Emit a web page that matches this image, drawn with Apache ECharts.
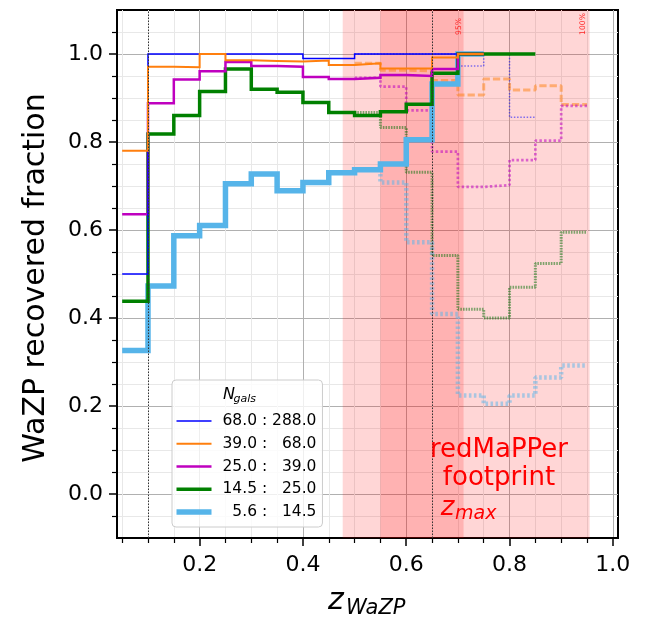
<!DOCTYPE html>
<html><head><meta charset="utf-8">
<script src="https://cdn.jsdelivr.net/npm/echarts@6/dist/echarts.min.js"></script>
<style>html,body{margin:0;padding:0;background:#fff}#c{width:647px;height:623px}</style>
</head><body><div id="c"></div>
<script>
// ---- data ----
const zEdges = [0.05,0.10,0.15,0.20,0.25,0.30,0.35,0.40,0.45,0.50,0.55,0.60,0.65,0.70,0.75,0.80,0.85,0.90,0.95];
const legendNames = ['68.0 : 288.0', '39.0 :   68.0', '25.0 :   39.0', '14.5 :   25.0', '  5.6 :   14.5'];
// solid curves start at z = 0.05 (bin index 0)
const blueSolid   = [0.50,1.00,1.00,1.00,1.00,1.00,1.00,0.990,0.990,1.00,1.00,1.00,1.00,1.00];
const orangeSolid = [0.78,0.971,0.970,1.00,0.986,0.984,0.983,0.985,0.975,0.979,0.967,0.967,0.992,1.00];
const magentaSolid= [0.636,0.888,0.942,0.961,0.982,0.973,0.971,0.948,0.943,0.946,0.952,0.950,0.966,1.00];
const greenSolid  = [0.438,0.818,0.860,0.915,0.966,0.920,0.913,0.890,0.867,0.860,0.869,0.886,0.956,1.00,1.00,1.00];
const skySolid    = [0.326,0.473,0.587,0.610,0.705,0.727,0.689,0.708,0.730,0.737,0.750,0.805,0.932,1.00];
// dotted curves start at z = 0.50 (bin index 9)
const blueDot    = [1.00,1.00,1.00,1.00,0.973,1.00,0.856];
const orangeDot  = [0.979,0.963,0.962,0.940,0.907,0.943,0.918,0.928,0.885];
const magentaDot = [0.946,0.926,0.872,0.778,0.698,0.702,0.759,0.803,0.882];
const greenDot   = [0.867,0.833,0.731,0.542,0.420,0.400,0.470,0.524,0.595];
const skyDot     = [0.737,0.708,0.572,0.409,0.224,0.205,0.224,0.265,0.292];
const dotStart = 9;
// shaded bands and reference lines
const bandLight = [0.477, 0.955];
const bandDark  = [0.550, 0.711];
const vLines = [0.10, 0.646];
// ticks
const xMajor = [0.2,0.4,0.6,0.8,1.0];
const xMinor = [0.05,0.10,0.15,0.25,0.30,0.35,0.45,0.50,0.55,0.65,0.70,0.75,0.85,0.90,0.95];
const yMajor = [0.0,0.2,0.4,0.6,0.8,1.0];
const yMinor = [-0.05,0.05,0.10,0.15,0.25,0.30,0.35,0.45,0.50,0.55,0.65,0.70,0.75,0.85,0.90,0.95,1.05];

// ---- build ----
const FF = 'DejaVu Sans';
function steps(start, vals){
  const p = vals.map((v,i)=>[zEdges[start+i], v]);
  p.push([zEdges[start+vals.length], vals[vals.length-1]]);
  return p;
}
const cols = ['#0000ff','#ff7f0e','#bf00bf','#008000','#56b4e9'];
const colsA = ['rgba(0,0,255,0.5)','rgba(255,127,14,0.5)','rgba(191,0,191,0.55)','rgba(0,110,0,0.5)','rgba(86,180,233,0.5)'];
const widths = [1.5,2,2.5,3.5,5.5];
const solids = [blueSolid, orangeSolid, magentaSolid, greenSolid, skySolid];
const dots = [blueDot, orangeDot, magentaDot, greenDot, skyDot];
const dotW = [1.5,3,2.7,3,4.5];
const dotType = [[1.5,1.7],[7.3,3],[2.5,2.2],[1.6,1.1],[2.6,2.4]];

const series = [];
series.push({type:'line', name:'bands', data:[], z:1, silent:true,
  markArea:{silent:true, itemStyle:{color:'rgba(255,0,0,0.16)'}, label:{show:false},
    data:[[{xAxis:bandLight[0]},{xAxis:bandLight[1]}],[{xAxis:bandDark[0], itemStyle:{color:'rgba(255,0,0,0.17)'}},{xAxis:bandDark[1]}]]}});
series.push({type:'line', name:'vlines', data:[], z:1.5, silent:true,
  markLine:{silent:true, symbol:['none','none'], label:{show:false}, animation:false,
    lineStyle:{color:'#333', width:1, type:[1.5,1.5]}, data: vLines.map(v=>({xAxis:v}))}});
for (let i=0;i<5;i++){
  series.push({type:'line', name:'dot'+i, data:steps(dotStart, dots[i]), step:'end', symbol:'none', showSymbol:false, z:2,
    silent:true, lineStyle:{color:colsA[i], width:dotW[i], type:dotType[i], cap:'butt'}, itemStyle:{color:colsA[i]}});
}
const drawOrder = [4,3,2,0,1];
for (const i of drawOrder){
  series.push({type:'line', name:legendNames[i], data:steps(0, solids[i]), step:'end', symbol:'none', showSymbol:false, z:3,
    silent:true, lineStyle:{color:cols[i], width:widths[i], join:'miter'}, itemStyle:{color:cols[i]}});
}

const axLine = {show:true, onZero:false, lineStyle:{color:'#000', width:2}};
const option = {
  animation:false,
  grid:{left:117, right:29, top:10, bottom:85, show:true, borderColor:'#000', borderWidth:2, backgroundColor:'transparent', containLabel:false, outerBoundsMode:'none'},
  xAxis:[
    {type:'value', min:0.04, max:1.01, position:'bottom', axisLine:axLine,
     axisTick:{show:true, length:8, customValues:xMajor, lineStyle:{color:'#000', width:1.5}},
     axisLabel:{customValues:xMajor, fontSize:22, fontFamily:FF, color:'#000', margin:16, formatter:v=>v.toFixed(1)},
     splitLine:{show:true, lineStyle:{color:'#b0b0b0', width:1}}},
    {type:'value', min:0.04, max:1.01, position:'bottom', axisLine:{show:false, onZero:false},
     axisTick:{show:true, length:5, customValues:xMinor, lineStyle:{color:'#000', width:1.2}},
     axisLabel:{show:false}, splitLine:{show:true, lineStyle:{color:'#e8e8e8', width:1}}}
  ],
  yAxis:[
    {type:'value', min:-0.1, max:1.1, position:'left', axisLine:axLine,
     axisTick:{show:true, length:8, customValues:yMajor, lineStyle:{color:'#000', width:1.5}},
     axisLabel:{customValues:yMajor, fontSize:22, fontFamily:FF, color:'#000', margin:14, formatter:v=>v.toFixed(1)},
     splitLine:{show:true, lineStyle:{color:'#b0b0b0', width:1}}},
    {type:'value', min:-0.1, max:1.1, position:'left', axisLine:{show:false, onZero:false},
     axisTick:{show:true, length:5, customValues:yMinor, lineStyle:{color:'#000', width:1.2}},
     axisLabel:{show:false}, splitLine:{show:true, lineStyle:{color:'#e8e8e8', width:1}}}
  ],
  legend:{
    show:true, orient:'vertical', left:172, top:380, padding:[32,6,6,4.5],
    itemWidth:35, itemHeight:14, itemGap:4.75, selectedMode:false,
    backgroundColor:'rgba(255,255,255,0.8)', borderColor:'#cccccc', borderWidth:1, borderRadius:4,
    itemStyle:{borderWidth:0},
    textStyle:{fontSize:15.5, fontFamily:FF, color:'#000', lineHeight:18, padding:[0,0,0,6]},
    data: legendNames.map((n,i)=>({name:n, icon:'path://M0,0H35V'+widths[i]+'H0Z'}))
  },
  graphic:{elements:[
    {type:'text', x:36, y:278, rotation:Math.PI/2, z:100, style:{text:'WaZP recovered fraction', fontSize:30, fontFamily:FF, fill:'#000', align:'center', verticalAlign:'middle'}},
    {type:'text', x:328, y:601, z:100, style:{text:'z', fontSize:30, fontStyle:'italic', fontFamily:FF, fill:'#000', align:'left', verticalAlign:'middle'}},
    {type:'text', x:346, y:608.5, z:100, style:{text:'WaZP', fontSize:21, fontStyle:'italic', fontFamily:FF, fill:'#000', align:'left', verticalAlign:'middle'}},
    {type:'text', x:499, y:464.3, z:100, style:{text:'redMaPPer\nfootprint', fontSize:26, lineHeight:27.4, fontFamily:FF, fill:'#ff0000', align:'center', verticalAlign:'middle'}},
    {type:'text', x:440.7, y:508, z:100, style:{text:'z', fontSize:26, fontStyle:'italic', fontFamily:FF, fill:'#ff0000', align:'left', verticalAlign:'middle'}},
    {type:'text', x:455, y:514.5, z:100, style:{text:'max', fontSize:19, fontStyle:'italic', fontFamily:FF, fill:'#ff0000', align:'left', verticalAlign:'middle'}},
    {type:'text', x:459.3, y:35, rotation:Math.PI/2, z:100, style:{text:'95%', fontSize:7.7, fontFamily:FF, fill:'#ff2a2a', align:'left', verticalAlign:'middle'}},
    {type:'text', x:583.3, y:35, rotation:Math.PI/2, z:100, style:{text:'100%', fontSize:7.7, fontFamily:FF, fill:'#ff2a2a', align:'left', verticalAlign:'middle'}},
    {type:'text', x:223, y:394.5, z:100, style:{text:'N', fontSize:16, fontStyle:'italic', fontFamily:FF, fill:'#000', align:'left', verticalAlign:'middle'}},
    {type:'text', x:233.5, y:399.2, z:100, style:{text:'gals', fontSize:11, fontStyle:'italic', fontFamily:FF, fill:'#000', align:'left', verticalAlign:'middle'}}
  ]},
  series: series
};
const chart = echarts.init(document.getElementById('c'), null, {renderer:'canvas'});
chart.setOption(option);
</script>
</body></html>
